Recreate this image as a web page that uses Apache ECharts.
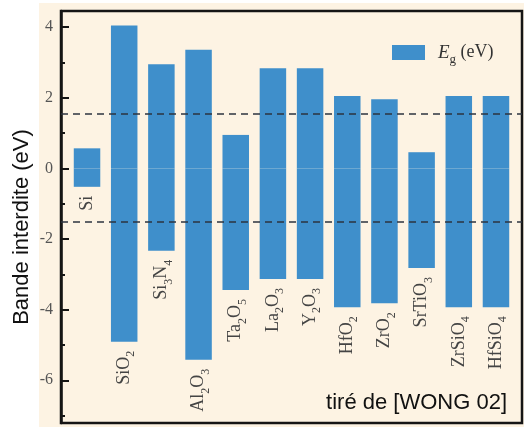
<!DOCTYPE html>
<html>
<head>
<meta charset="utf-8">
<script src="https://cdn.jsdelivr.net/npm/echarts@6/dist/echarts.min.js"></script>
<style>html,body{margin:0;padding:0;background:#fff;}#c{width:524px;height:427px;}</style>
</head>
<body>
<div id="c"></div>
<script>
const categories = ['Si','SiO2','Si3N4','Al2O3','Ta2O5','La2O3','Y2O3','HfO2','ZrO2','SrTiO3','ZrSiO4','HfSiO4'];
const upperValues = [0.57, 4.05, 2.95, 3.36, 0.95, 2.84, 2.84, 2.05, 1.96, 0.46, 2.05, 2.05];
const lowerValues = [-0.52, -4.91, -2.33, -5.42, -3.44, -3.13, -3.13, -3.93, -3.82, -2.82, -3.93, -3.93];
const majorTicks = [-6, -4, -2, 0, 2, 4];
const minorTicks = [-7, -5, -3, -1, 1, 3];
const dashedLevels = [1.56, -1.52];
const yRange = [-7.21, 4.46];
const seriesName = 'Eg';
const yTitle = 'Bande interdite (eV)';
const sourceNote = 'tiré de [WONG 02]';

const SERIF = '"Liberation Serif", "DejaVu Serif", serif';
const SANS = '"Liberation Sans", Arial, sans-serif';
const BLUE = '#3f8fcb';

function richName(n) {
  return n.replace(/(\d+)/g, '{s|$1}').replace(/(^|\})([^{}]+)(?=\{|$)/g, function(m, p, t){ return p + '{m|' + t + '}'; });
}

const chart = echarts.init(document.getElementById('c'));
const upperData = upperValues.map((v, i) => [i, v]);
const lowerData = lowerValues.map((v, i) => ({ value: [i, v], label: { formatter: richName(categories[i]) } }));

const yCommon = {
  type: 'value', position: 'left', min: yRange[0], max: yRange[1],
  splitLine: { show: false }
};

chart.setOption({
  backgroundColor: '#ffffff',
  animation: false,
  graphic: [
    { type: 'rect', z: -10, silent: true, shape: { x: 39, y: 3, width: 485, height: 424 }, style: { fill: '#fdf3e3' } },
    { type: 'text', z: 10, silent: true, style: { text: sourceNote, x: 507, y: 403, align: 'right', verticalAlign: 'middle', font: '22px ' + SANS, fill: '#111' } }
  ],
  grid: { left: 61, right: 2, top: 11, bottom: 4, outerBoundsMode: 'none', containLabel: false, show: true, borderColor: '#151515', borderWidth: 2.5, backgroundColor: 'transparent' },
  legend: {
    data: [seriesName], left: 387, top: 38, itemWidth: 33, itemHeight: 15, icon: 'rect',
    formatter: function(){ return '{e|E}{g|g}{t| (eV)}'; },
    textStyle: {
      rich: {
        e: { fontFamily: SERIF, fontStyle: 'italic', fontSize: 19, color: '#333', padding: [0,0,0,8] },
        g: { fontFamily: SERIF, fontSize: 13, color: '#333', verticalAlign: 'bottom', lineHeight: 28 },
        t: { fontFamily: SERIF, fontSize: 18, color: '#333' }
      }
    }
  },
  xAxis: {
    type: 'value', min: -0.7, max: 11.7, show: false
  },
  yAxis: [
    Object.assign({}, yCommon, {
      name: yTitle, nameLocation: 'middle', nameGap: 28, nameMoveOverlap: false,
      nameTextStyle: { fontFamily: SANS, fontSize: 22, color: '#111', padding: [0, 20, 0, 0] },
      axisLine: { show: true, onZero: false, lineStyle: { color: '#151515', width: 2.5 } },
      axisTick: { show: true, inside: true, length: 8, lineStyle: { color: '#151515', width: 2 }, customValues: majorTicks },
      axisLabel: { show: true, margin: 8, fontFamily: SERIF, fontSize: 16, color: '#555', customValues: majorTicks }
    }),
    Object.assign({}, yCommon, {
      axisLine: { show: false, onZero: false },
      axisTick: { show: true, inside: true, length: 4, lineStyle: { color: '#151515', width: 2 }, customValues: minorTicks },
      axisLabel: { show: false, customValues: minorTicks }
    })
  ],
  series: [
    {
      name: seriesName, type: 'bar', data: upperData, barWidth: 26.5, barGap: '-100%',
      itemStyle: { color: BLUE },
      markLine: {
        silent: true, symbol: 'none', label: { show: false },
        lineStyle: { color: '#2d3540', type: [7, 5], width: 1.5 },
        data: dashedLevels.map(v => ({ yAxis: v }))
      }
    },
    {
      name: seriesName + '_low', type: 'bar', data: lowerData, barWidth: 26.5, barGap: '-100%',
      itemStyle: { color: BLUE },
      label: {
        show: true, position: 'bottom', distance: 9, rotate: 90, align: 'right', verticalAlign: 'middle',
        rich: {
          m: { fontFamily: SERIF, fontSize: 18, color: '#444' },
          s: { fontFamily: SERIF, fontSize: 12, color: '#444', verticalAlign: 'bottom', lineHeight: 26 }
        }
      }
    }
  ]
});
</script>
</body>
</html>
